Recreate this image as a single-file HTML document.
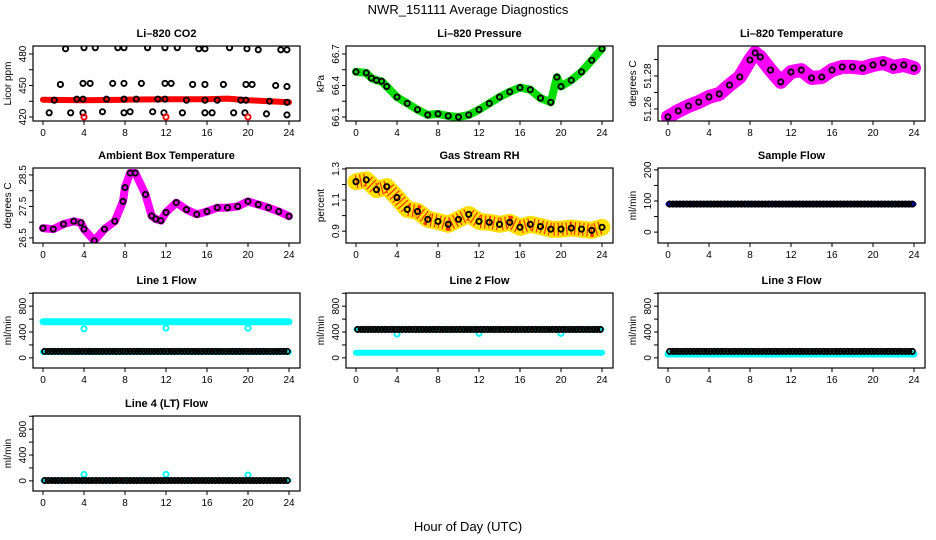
<!DOCTYPE html>
<html><head><meta charset="utf-8"><style>
html,body{margin:0;padding:0;background:#fff}
svg{display:block;font-family:"Liberation Sans",sans-serif}
</style></head><body>
<svg id="chart" width="936" height="540" viewBox="0 0 936 540">
<text x="468" y="14" text-anchor="middle" font-size="13">NWR_151111  Average Diagnostics</text>
<text x="468" y="531" text-anchor="middle" font-size="13">Hour of Day (UTC)</text>
</svg>
<script>
// ---- data ----
const hours = [0,1,2,3,4,5,6,7,8,9,10,11,12,13,14,15,16,17,18,19,20,21,22,23,24];
const xTicks = [0,4,8,12,16,20,24];

const co2BandT = [0,4,8,12,16,18,20,24];
const co2BandV = [436.5,436,436.5,437,437,437.5,436,434];
const co2TopT = [2.2,4,5.1,7.3,7.9,10.2,11.9,13.1,15.2,15.8,18.2,19.9,21,23.2,23.8];
const co2TopV = [485,486,486,486,486,486,486,486,485,485,486,485,484,484,484];
const co2MidT = [1.7,3.9,4.6,6.8,7.9,9.6,11.9,12.5,14.6,15.8,17.6,19.8,20.4,22.7,23.8];
const co2MidV = [451,452,452,452,452,452,452,452,451,451,451,451,451,450,449];
const co2LowT = [1.1,3.3,3.9,6.2,7.9,9.1,11.2,11.9,14,15.8,17,19.3,19.8,22.1,23.8];
const co2LowV = [436,437,437,437,437,437,437,437,436,436,436,436,436,435,434];
const co2BotT = [0.6,2.7,3.9,5.8,7.9,8.5,10.7,11.8,13.6,15.8,16.5,18.6,19.7,21.8,23.8];
const co2BotV = [424,424,424,425,424,425,425,424,424,424,424,424,424,423,422];
const co2RedT = [4,12,20];
const co2RedV = [420,420,420];

const presT = [0,1,1.5,2,2.5,3,4,5,6,7,8,9,10,11,12,13,14,15,16,17,18,19,19.6,20,21,22,23,24];
const presV = [66.53,66.52,66.47,66.45,66.44,66.39,66.29,66.23,66.17,66.12,66.13,66.11,66.10,66.12,66.17,66.23,66.29,66.34,66.38,66.36,66.28,66.24,66.48,66.39,66.45,66.53,66.64,66.75];

const tempT = [0,1,2,3,4,5,6,7,8,8.5,9,10,11,12,13,14,15,16,17,18,19,20,21,22,23,24];
const tempV = [51.2552,51.2588,51.2618,51.2642,51.2673,51.2691,51.2745,51.2794,51.2897,51.294,51.2915,51.2836,51.2764,51.2824,51.2836,51.2788,51.2794,51.2836,51.2855,51.2855,51.2848,51.2867,51.2879,51.2855,51.2867,51.2848];

const ambT = [0,1,2,3,3.7,4,5,6,7,7.8,8,8.5,9,10,10.6,11,11.5,12,13,14,15,16,17,18,19,20,21,22,23,24];
const ambV = [26.81,26.78,26.94,27.03,26.98,26.78,26.41,26.78,27.03,27.66,28.1,28.56,28.56,27.88,27.2,27.1,27.05,27.31,27.62,27.4,27.25,27.34,27.46,27.46,27.5,27.66,27.56,27.46,27.34,27.19];

const rhT = hours;
const rhV = [1.218,1.23,1.167,1.186,1.116,1.04,1.027,0.976,0.963,0.944,0.976,1.008,0.963,0.957,0.944,0.957,0.925,0.944,0.93,0.913,0.913,0.92,0.913,0.905,0.925];

const sampleV = [90,90,90,90,90,90,90,90,90,90,90,90,90,90,90,90,90,90,90,90,90,90,90,90,90];
const line1HighV = [560,560,560,560,560,560,560,560,560,560,560,560,560,560,560,560,560,560,560,560,560,560,560,560,560];
const line1LowV = [90,90,90,90,90,90,90,90,90,90,90,90,90,90,90,90,90,90,90,90,90,90,90,90,90];
const line1BlackV = [100,100,100,100,100,100,100,100,100,100,100,100,100,100,100,100,100,100,100,100,100,100,100,100,100];
const line2HighV = [440,440,440,440,440,440,440,440,440,440,440,440,440,440,440,440,440,440,440,440,440,440,440,440,440];
const line2LowV = [80,80,80,80,80,80,80,80,80,80,80,80,80,80,80,80,80,80,80,80,80,80,80,80,80];
const line3CyanV = [60,60,60,60,60,60,60,60,60,60,60,60,60,60,60,60,60,60,60,60,60,60,60,60,60];
const line3BlackV = [100,100,100,100,100,100,100,100,100,100,100,100,100,100,100,100,100,100,100,100,100,100,100,100,100];
const line4BlackV = [5,5,5,5,5,5,5,5,5,5,5,5,5,5,5,5,5,5,5,5,5,5,5,5,5];
const spikeT = [4,12,20];
const line1SpikeV = [450,460,460];
const line2SpikeV = [370,380,380];
const line4SpikeV = [100,100,90];

// ---- drawing ----
const svg = document.getElementById('chart');
const NS = 'http://www.w3.org/2000/svg';
function mk(tag, attrs, parent) {
  const e = document.createElementNS(NS, tag);
  for (const k in attrs) e.setAttribute(k, attrs[k]);
  (parent || svg).appendChild(e);
  return e;
}
const colX = [33, 346, 658];
const rowY = [46, 168, 293, 416];
const W = 267, H = 75;

function panel(col, row, name, title, ylab, ymin, ymax, ticks, labels) {
  const g = mk('g', {});
  
  
  const L = colX[col], T = rowY[row];
  const x0 = L + 10;
  const sx = t => x0 + t * 10.25;
  const sy = v => T + H - (v - ymin) / (ymax - ymin) * H;
  const tt = mk('text', {x: L + W / 2, y: T - 9, 'text-anchor': 'middle', 'font-size': 11, 'font-weight': 'bold'}, g);
  tt.textContent = title;
  
  
  const yl = mk('text', {x: 0, y: 0, 'text-anchor': 'middle', 'font-size': 10, transform: `translate(${L - 22},${T + H / 2}) rotate(-90)`}, g);
  yl.textContent = ylab;
  
  
  const ax = mk('g', {stroke: '#000', 'stroke-width': 1}, g);
  
  
  xTicks.forEach(t => {
    mk('line', {x1: sx(t), x2: sx(t), y1: T + H, y2: T + H + 4}, ax);
    const lb = mk('text', {x: sx(t), y: T + H + 15, 'text-anchor': 'middle', 'font-size': 10, stroke: 'none'}, g);
    lb.textContent = t;
    
    
  });
  ticks.forEach((v, i) => {
    mk('line', {x1: L - 4, x2: L, y1: sy(v), y2: sy(v)}, ax);
    if (labels[i]) {
      const lb = mk('text', {x: 0, y: 0, 'text-anchor': 'middle', 'font-size': 10, stroke: 'none', transform: `translate(${L - 7},${sy(v)}) rotate(-90)`}, g);
      lb.textContent = labels[i];
      
      
    }
  });
  const clipId = 'c' + col + row;
  const cp = mk('clipPath', {id: clipId}, g);
  mk('rect', {x: L, y: T, width: W, height: H}, cp);
  const plot = mk('g', {'clip-path': `url(#${clipId})`}, g);
  mk('rect', {x: L, y: T, width: W, height: H, fill: 'none', stroke: '#000', 'stroke-width': 1.2}, g);
  return {sx, sy, plot};
}
function band(p, ts, vs, color, w, name, dash) {
  const d = ts.map((t, i) => (i ? 'L' : 'M') + p.sx(t).toFixed(1) + ',' + p.sy(vs[i]).toFixed(1)).join('');
  const e = mk('path', {d, fill: 'none', stroke: color, 'stroke-width': w, 'stroke-linejoin': 'round', 'stroke-linecap': 'round'}, p.plot);
  if (dash) { e.setAttribute('stroke-dasharray', dash); e.setAttribute('stroke-linecap', 'butt'); }
  
  
  return e;
}
function pts(p, ts, vs, color, name, r) {
  ts.forEach((t, i) => {
    const c = mk('circle', {cx: p.sx(t), cy: p.sy(vs[i]), r: r || 2.6, fill: 'none', stroke: color, 'stroke-width': 1.9}, p.plot);
    
    
  });
}
function hourlyPts(p, vs, color, name) {
  for (let i = 0; i < hours.length - 1; i++) {
    for (let k = 0; k < 3; k++) {
      const t = hours[i] + k / 3 + 0.5 / 3;
      if (t > 24) continue;
      const c = mk('circle', {cx: p.sx(t), cy: p.sy(vs[i]), r: 2.6, fill: 'none', stroke: color, 'stroke-width': 1.9}, p.plot);
      
      
    }
  }
}

// Row 1
let p = panel(0, 0, 'co2-panel', 'Li\u2013820 CO2', 'Licor ppm', 416.2, 487.6, [420,435,450,465,480], ['420','','450','','480']);
band(p, co2BandT, co2BandV, '#ff0000', 6, 'co2-band');
pts(p, co2TopT, co2TopV, '#000', 'co2-point');
pts(p, co2MidT, co2MidV, '#000', 'co2-point');
pts(p, co2LowT, co2LowV, '#000', 'co2-point');
pts(p, co2BotT, co2BotV, '#000', 'co2-point');
pts(p, co2RedT, co2RedV, '#ff0000', 'co2-red-point');

p = panel(1, 0, 'pressure-panel', 'Li\u2013820 Pressure', 'kPa', 66.062, 66.776, [66.1,66.25,66.4,66.55,66.7], ['66.1','','66.4','','66.7']);
band(p, presT, presV, '#00dd00', 8, 'pressure-band');
pts(p, presT, presV, '#000', 'pressure-point');

p = panel(2, 0, 'temperature-panel', 'Li\u2013820 Temperature', 'degrees C', 51.2527, 51.2982, [51.26,51.27,51.28,51.29], ['51.26','','51.28','']);
band(p, tempT, tempV, '#ff00ff', 14, 'temperature-band');
pts(p, tempT, tempV, '#000', 'temperature-point');

// Row 2
p = panel(0, 1, 'ambient-panel', 'Ambient Box Temperature', 'degrees C', 26.34, 28.72, [26.5,27,27.5,28,28.5], ['26.5','','27.5','','28.5']);
band(p, ambT, ambV, '#ff00ff', 8, 'ambient-band');
pts(p, ambT, ambV, '#000', 'ambient-point');

p = panel(1, 1, 'rh-panel', 'Gas Stream RH', 'percent', 0.824, 1.306, [0.9,1.0,1.1,1.2,1.3], ['0.9','','1.1','','1.3']);
band(p, rhT, rhV, '#ffe000', 17, 'rh-band');
band(p, rhT, rhV, '#ff3300', 13, 'rh-band-dots', '1.2 3');
pts(p, rhT, rhV, '#000', 'rh-point');

p = panel(2, 1, 'sample-flow-panel', 'Sample Flow', 'ml/min', -35, 206, [0,50,100,150,200], ['0','','100','','200']);
band(p, hours, sampleV, '#0000ff', 5, 'sample-flow-band');
hourlyPts(p, sampleV, '#000', 'sample-flow-point');

// Row 3
const fT = [0,200,400,600,800,1000], fL = ['0','','400','','800',''];
p = panel(0, 2, 'line1-panel', 'Line 1 Flow', 'ml/min', -157, 1004, fT, fL);
band(p, hours, line1HighV, '#00ffff', 7, 'line1-high-band');
band(p, hours, line1LowV, '#00ffff', 6, 'line1-low-band');
pts(p, spikeT, line1SpikeV, '#00ffff', 'line1-spike');
hourlyPts(p, line1BlackV, '#000', 'line1-point');

p = panel(1, 2, 'line2-panel', 'Line 2 Flow', 'ml/min', -157, 1004, fT, fL);
band(p, hours, line2HighV, '#00ffff', 5, 'line2-high-band');
band(p, hours, line2LowV, '#00ffff', 6, 'line2-low-band');
pts(p, spikeT, line2SpikeV, '#00ffff', 'line2-spike');
hourlyPts(p, line2HighV, '#000', 'line2-point');

p = panel(2, 2, 'line3-panel', 'Line 3 Flow', 'ml/min', -157, 1004, fT, fL);
band(p, hours, line3CyanV, '#00ffff', 7, 'line3-band');
hourlyPts(p, line3BlackV, '#000', 'line3-point');

// Row 4
p = panel(0, 3, 'line4-panel', 'Line 4 (LT) Flow', 'ml/min', -157, 1004, fT, fL);
band(p, hours, line4BlackV, '#00ffff', 5, 'line4-band');
pts(p, spikeT, line4SpikeV, '#00ffff', 'line4-spike');
hourlyPts(p, line4BlackV, '#000', 'line4-point');
</script>
</body></html>
